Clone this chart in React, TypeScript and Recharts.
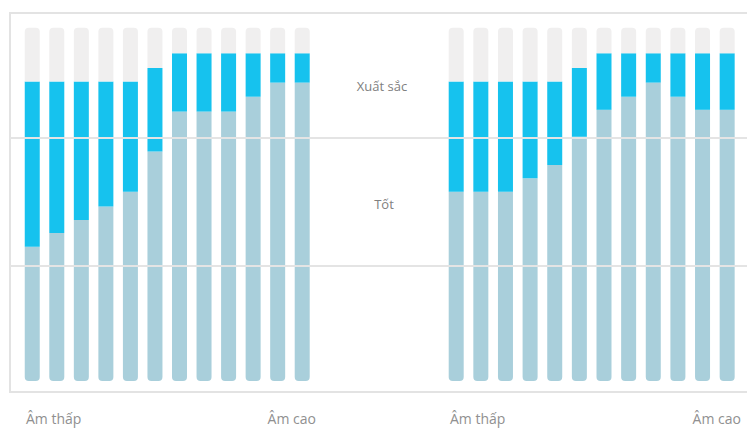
import React from "react";
import { BarChart, Bar, XAxis, YAxis, ReferenceLine } from "recharts";

// the 12 steps of each group, from low to high pitch
const steps = ["1", "2", "3", "4", "5", "6", "7", "8", "9", "10", "11", "12"];
const endLabels = ["Âm thấp", "Âm cao"];

// level where each "Tốt" part ends (cyan starts) and where cyan ends
const leftBase = [38, 41.9, 45.6, 49.4, 53.6, 65, 76.3, 76.3, 76.3, 80.5, 84.5, 84.5];
const leftTop = [84.8, 84.8, 84.8, 84.8, 84.8, 88.6, 92.8, 92.8, 92.8, 92.8, 92.8, 92.8];
const rightBase = [53.6, 53.6, 53.6, 57.4, 61.2, 69.2, 76.8, 80.5, 84.5, 80.5, 76.8, 76.8];
const rightTop = [84.8, 84.8, 84.8, 84.8, 84.8, 88.6, 92.8, 92.8, 92.8, 92.8, 92.8, 92.8];
const full = 100;

const thresholds = [32.6, 68.8];
const bandLabels = ["Xuất sắc", "Tốt"];

const buildRows = (base: number[], top: number[]) =>
  steps.map((s, i) => ({
    step: s,
    low: base[i],
    mid: top[i] - base[i],
    rest: full - top[i],
  }));

const leftRows = buildRows(leftBase, leftTop);
const rightRows = buildRows(rightBase, rightTop);

const EndTick = (props: any) => {
  const { x, y, index } = props;
  if (index === 0)
    return (
      <text x={x - 6} y={y} dy={25} textAnchor="start" fill="#909090" fontSize={14}>
        {endLabels[0]}
      </text>
    );
  if (index === steps.length - 1)
    return (
      <text x={x + 14} y={y} dy={25} textAnchor="end" fill="#909090" fontSize={14}>
        {endLabels[1]}
      </text>
    );
  return <g />;
};

function Half(props: { rows: any[]; width: number; padding: { left: number; right: number }; left: number }) {
  return (
    <BarChart
      width={props.width}
      height={432}
      data={props.rows}
      margin={{ top: 13, right: 0, bottom: 0, left: props.left }}
      barSize={15}
    >
      <XAxis
        dataKey="step"
        axisLine={false}
        tickLine={false}
        interval={0}
        height={41}
        padding={props.padding}
        tick={<EndTick />}
      />
      <YAxis hide domain={[-2.8, 104.2]} />
      {thresholds.map((t) => (
        <ReferenceLine key={t} y={t} stroke="#e4e4e4" strokeWidth={2} />
      ))}
      <Bar dataKey="low" stackId="a" fill="#a9cfdb" radius={[0, 0, 4, 4]} isAnimationActive={false} />
      <Bar dataKey="mid" stackId="a" fill="#16c2ee" isAnimationActive={false} />
      <Bar dataKey="rest" stackId="a" fill="#f0efef" radius={[4, 4, 0, 0]} isAnimationActive={false} />
    </BarChart>
  );
}

export default function App() {
  return (
    <div
      style={{
        position: "relative",
        width: 747,
        height: 432,
        overflow: "hidden",
        background: "#fff",
        fontFamily: "'Open Sans', sans-serif",
      }}
    >
      <style>{"body{margin:0}"}</style>
      <div
        style={{
          position: "absolute",
          left: 9,
          top: 12,
          width: 760,
          height: 377,
          border: "2px solid #e3e3e3",
          borderRight: "none",
        }}
      />
      <div style={{ position: "absolute", left: 0, top: 0 }}>
        <Half rows={leftRows} width={378} left={10} padding={{ left: 9.75, right: 63.75 }} />
      </div>
      <div style={{ position: "absolute", left: 378, top: 0 }}>
        <Half rows={rightRows} width={369} left={0} padding={{ left: 65.7, right: 7.7 }} />
      </div>
      <div style={{ position: "absolute", left: 332, width: 100, top: 77, textAlign: "center", fontSize: 13, color: "#808080" }}>
        {bandLabels[0]}
      </div>
      <div style={{ position: "absolute", left: 334, width: 100, top: 195, textAlign: "center", fontSize: 13, color: "#808080" }}>
        {bandLabels[1]}
      </div>
    </div>
  );
}
